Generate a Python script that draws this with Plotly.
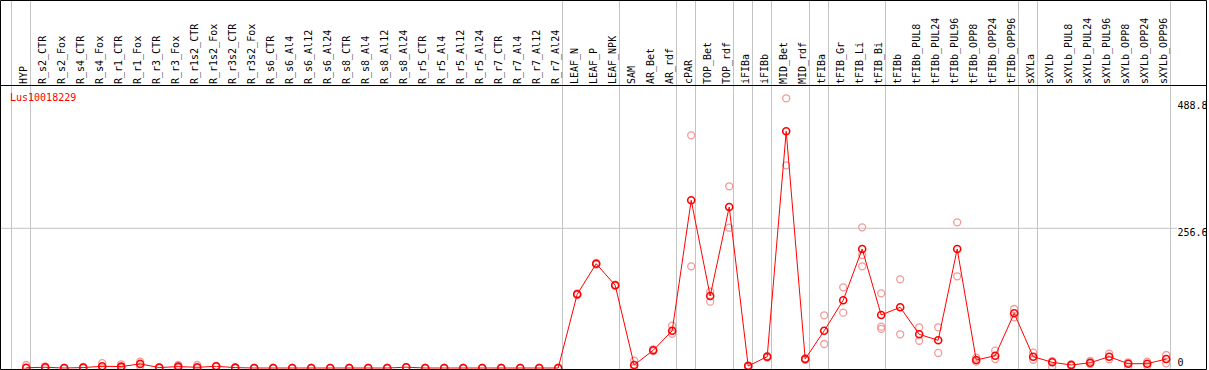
import plotly.graph_objects as go

# ---------------- data ----------------
categories = [
    "HYP", "R_s2_CTR", "R_s2_Fox", "R_s4_CTR", "R_s4_Fox", "R_r1_CTR", "R_r1_Fox",
    "R_r3_CTR", "R_r3_Fox", "R_r1s2_CTR", "R_r1s2_Fox", "R_r3s2_CTR", "R_r3s2_Fox",
    "R_s6_CTR", "R_s6_Al4", "R_s6_Al12", "R_s6_Al24", "R_s8_CTR", "R_s8_Al4",
    "R_s8_Al12", "R_s8_Al24", "R_r5_CTR", "R_r5_Al4", "R_r5_Al12", "R_r5_Al24",
    "R_r7_CTR", "R_r7_Al4", "R_r7_Al12", "R_r7_Al24", "LEAF_N", "LEAF_P", "LEAF_NPK",
    "SAM", "AR_Bet", "AR_rdf", "cPAR", "TOP_Bet", "TOP_rdf", "iFIBa", "iFIBb",
    "MID_Bet", "MID_rdf", "tFIBa", "tFIB_Gr", "tFIB_Li", "tFIB_Bi", "tFIBb",
    "tFIBb_PUL8", "tFIBb_PUL24", "tFIBb_PUL96", "tFIBb_OPP8", "tFIBb_OPP24",
    "tFIBb_OPP96", "sXYLa", "sXYLb", "sXYLb_PUL8", "sXYLb_PUL24", "sXYLb_PUL96",
    "sXYLb_OPP8", "sXYLb_OPP24", "sXYLb_OPP96",
]

mean_vals = [
    0.5, 1.3, 0, 0.8, 3.1, 2.6, 7.5, 0.8, 2.6, 1.3, 3.1, 0.7, 0,
    0, 0, 0, 0, 0, 0, 0, 1.5, 0, 0, 0, 0, 0, 0, 0, 0,
    135.4, 191.6, 151.9,
    5.5, 32.5, 68.5, 308.0, 132.3, 295.7, 3.7, 20.8,
    434.8, 16.5, 68.5, 124.4, 218.6, 97.4, 111.5,
    61.9, 50.9, 218.6, 14.7, 22.6, 100.5,
    20.8, 10.5, 5.5, 9.7, 20.8, 7.9, 7.9, 16.5,
]

rep_a = [
    5.5, 3, 0, 2, 8.8, 6.8, 11.8, 1, 5.5, 5.5, 4, 1, 0,
    0, 0, 0, 0, 0, 0, 0, 2, 0, 0, 0, 0, 0, 0, 0, 0,
    137, 193, 153,
    13.4, 34, 77.7, 427.4, 140.2, 333.8, 5, 22,
    495.4, 18, 96.8, 148.2, 258.4, 137.2, 162.9,
    74.8, 74.8, 267.6, 18.9, 31.8, 108.4,
    28.1, 12.9, 7, 12.9, 26.3, 10.5, 11.6, 23.9,
]

rep_b = [
    0, 0, 0, 0, 0, 0, 3, 0, 0, 0, 2, 0, 0,
    0, 0, 0, 0, 0, 0, 0, 1, 0, 0, 0, 0, 0, 0, 0, 0,
    134, 190, 151,
    0, 31, 63, 186.8, 121.8, 257.7, 2, 19,
    372.3, 15, 44.1, 101.6, 186.8, 75.9, 61.9,
    50.1, 27.6, 168.4, 11.6, 16.5, 93.1,
    15.2, 2.4, 4, 7.3, 16, 2.4, 4.2, 8.6,
]

rep_c = [None] * len(categories)
rep_c[categories.index("tFIB_Li")] = 207.6
rep_c[categories.index("tFIB_Bi")] = 72.0

group_last = ["HYP", "R_r7_Al24", "LEAF_NPK", "AR_rdf", "cPAR", "TOP_rdf", "iFIBa",
              "iFIBb", "MID_rdf", "tFIBa", "tFIB_Bi", "tFIBb_OPP96", "sXYLa", "sXYLb_OPP96"]

y_tick_vals = [488.8, 256.6, 0]
y_tick_text = ["488.8", "256.6", "0"]
gene_name = "Lus10018229"

# ---------------- layout geometry ----------------
W, H = 1209, 370
ML, MR, MT, MB = 1, 2, 85, 1
PW = W - ML - MR
PH = H - MT - MB
cat_px = 19.0          # pixels per category
first_px = 26.2        # pixel of first category
x0 = -(first_px - ML) / cat_px
x1 = x0 + PW / cat_px
zero_px = 368.0
unit_px = 0.5444
y_top = (zero_px - MT) / unit_px
y_bot = (zero_px - (H - MB)) / unit_px


def px_x(p):
    return (p - ML) / PW


def px_y(p):
    return (H - MB - p) / PH


idx = list(range(len(categories)))
mono = "DejaVu Sans Mono"
red = "#ff0000"
pink = "#f29a9a"
gray = "#c4c4c4"

fig = go.Figure()

# replicates
rx, ry = [], []
for arr in (rep_a, rep_b, rep_c):
    for i, v in enumerate(arr):
        if v is not None:
            rx.append(i)
            ry.append(v)
fig.add_trace(go.Scatter(
    x=rx, y=ry, mode="markers",
    marker=dict(symbol="circle-open", size=7, color=pink, line=dict(width=1.3, color=pink)),
    hoverinfo="skip", showlegend=False,
))

# mean line
fig.add_trace(go.Scatter(
    x=idx, y=mean_vals, mode="lines+markers",
    line=dict(color=red, width=1),
    marker=dict(symbol="circle-open", size=7, color=red, line=dict(width=1.6, color=red)),
    showlegend=False,
))

# right-side value labels (clipped at the frame like the reference)
lab_x = x0 + (1177.5 - ML) / cat_px
fig.add_trace(go.Scatter(
    x=[lab_x] * len(y_tick_vals), y=y_tick_vals, mode="text",
    text=y_tick_text,
    textposition=["bottom right", "bottom right", "top right"],
    textfont=dict(family=mono, size=10, color="black"),
    hoverinfo="skip", showlegend=False,
))

shapes = []
# group separators
sep_positions = [-1] + [categories.index(c) for c in group_last]
for s in sep_positions:
    shapes.append(dict(type="line", xref="x", yref="paper",
                       x0=s + 0.226, x1=s + 0.226, y0=px_y(369.5), y1=px_y(0.5),
                       line=dict(color=gray, width=1), layer="below"))
# horizontal grid line at middle tick
shapes.append(dict(type="line", xref="paper", yref="y",
                   x0=0, x1=px_x(1177), y0=y_tick_vals[1], y1=y_tick_vals[1],
                   line=dict(color=gray, width=1), layer="below"))
# frame
shapes.append(dict(type="rect", xref="paper", yref="paper",
                   x0=px_x(0.5), x1=px_x(1206.5), y0=px_y(369.5), y1=px_y(0.5),
                   line=dict(color="black", width=1), layer="above"))
shapes.append(dict(type="line", xref="paper", yref="paper",
                   x0=px_x(0.5), x1=px_x(1206.5), y0=px_y(85.5), y1=px_y(85.5),
                   line=dict(color="black", width=1), layer="above"))

fig.update_layout(
    width=W, height=H,
    margin=dict(l=ML, r=MR, t=MT, b=MB, pad=0),
    paper_bgcolor="white", plot_bgcolor="white",
    showlegend=False,
    shapes=shapes,
    annotations=[dict(text=gene_name, xref="paper", yref="paper",
                      x=px_x(8), y=px_y(97.5), xanchor="left", yanchor="middle",
                      showarrow=False, font=dict(family=mono, size=10, color=red))],
    xaxis=dict(range=[x0, x1], side="top", tickmode="array", tickvals=idx,
               ticktext=categories, tickangle=-90, ticks="",
               tickfont=dict(family=mono, size=10, color="black"),
               showgrid=False, zeroline=False, showline=False,
               ticklabelstandoff=0, ticklabelshift=-2),
    yaxis=dict(range=[y_bot, y_top], showticklabels=False, showgrid=False,
               zeroline=False, showline=False, ticks=""),
)

fig.write_html(
    "out.html",
    config={"displayModeBar": False},
    post_script="document.body.style.margin='0px';document.body.style.padding='0px';",
)
